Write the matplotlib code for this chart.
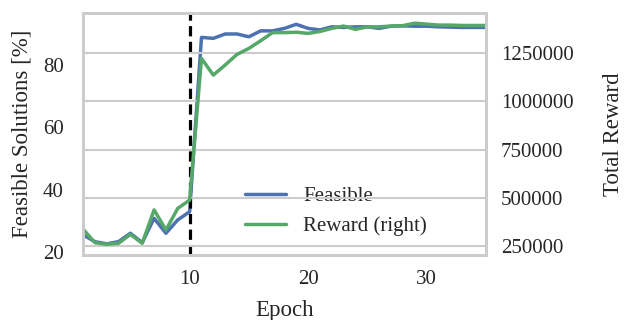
import numpy as np
import seaborn as sns
import matplotlib.pyplot as plt
from matplotlib.ticker import FuncFormatter

epochs = list(range(1, 36))
feasible = [25.5, 23.3, 22.6, 23.3, 26.0, 23.0, 30.8, 26.0, 30.3, 32.9,
            88.9, 88.6, 90.0, 90.0, 89.1, 91.0, 91.0, 91.8, 93.1, 91.8,
            91.3, 92.3, 92.1, 92.3, 92.3, 91.8, 92.5, 92.6, 92.5, 92.5,
            92.3, 92.2, 92.1, 92.1, 92.1]
reward = [338000, 267000, 259000, 264000, 310000, 264000, 437000, 333000, 445000, 488000,
          1222000, 1136000, 1188000, 1243000, 1274000, 1314000, 1356000, 1356000, 1358000, 1352000,
          1362000, 1378000, 1390000, 1373000, 1386000, 1386000, 1390000, 1392000, 1405000, 1400000,
          1395000, 1395000, 1393000, 1393000, 1393000]
left_ticks = [20, 40, 60, 80]
right_ticks = [250000, 500000, 750000, 1000000, 1250000]

sns.set_theme(style="whitegrid")
plt.rcParams['font.family'] = ['Liberation Serif', 'DejaVu Serif']

fig, ax1 = plt.subplots(figsize=(6.26, 3.2), dpi=100)
fig.subplots_adjust(left=0.1326, right=0.776, top=0.959, bottom=0.203)
ax2 = ax1.twinx()

ax1.plot(epochs, feasible, color="#4C72B0", lw=2.5, label="Feasible")
ax2.plot(epochs, reward, color="#55A868", lw=2.5, label="Reward (right)")
ax1.axvline(10, color="black", ls="--", lw=2.3, dashes=(3.2, 1.7))

ax1.set_xlim(1, 35)
ax1.set_ylim(19, 96.7)
ax2.set_ylim(203000, 1457000)
ax1.set_yticks(left_ticks)
ax2.set_yticks(right_ticks)
ax2.yaxis.set_major_formatter(FuncFormatter(lambda v, p: f"{int(v)}"))
ax1.set_xticks([10, 20, 30])

ax1.grid(False)
ax2.grid(True, axis="y", color="#cccccc", lw=1.5)
for ax in (ax1, ax2):
    for s in ax.spines.values():
        s.set_color("#cccccc")
        s.set_linewidth(2)
ax1.tick_params(axis="y", length=0, pad=14, labelsize=15, colors="#262626")
ax1.tick_params(axis="x", length=0, pad=11, labelsize=15, colors="#262626")
ax2.tick_params(axis="y", length=0, pad=11, labelsize=15, colors="#262626")

ax1.set_xlabel("Epoch", fontsize=16.5, color="#262626", labelpad=8)
ax1.set_ylabel("Feasible Solutions [%]", fontsize=16.5, color="#262626", labelpad=7)
ax2.set_ylabel("Total Reward", fontsize=16.5, color="#262626", labelpad=21)

h1, l1 = ax1.get_legend_handles_labels()
h2, l2 = ax2.get_legend_handles_labels()
ax1.legend(h1 + h2, l1 + l2, loc="lower left", bbox_to_anchor=(0.355, 0.0),
           frameon=False, fontsize=15, handlelength=2.0)

fig.savefig("out.png", dpi=100)
